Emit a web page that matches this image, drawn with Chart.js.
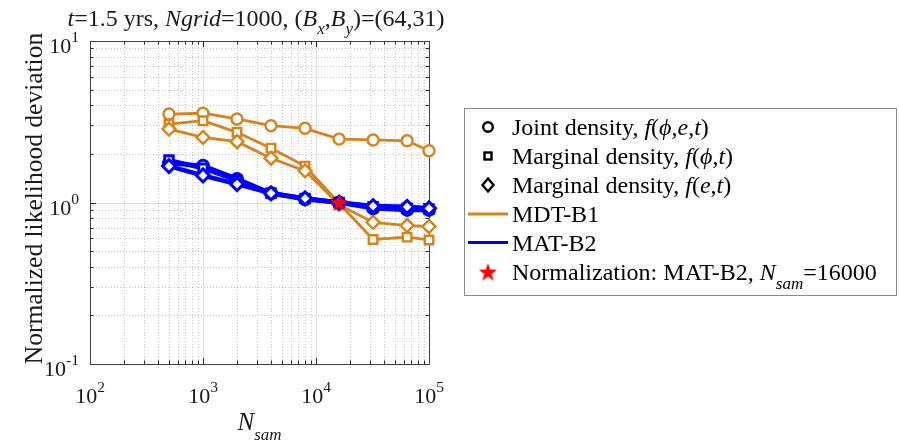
<!DOCTYPE html>
<html>
<head>
<meta charset="utf-8">
<script src="https://cdn.jsdelivr.net/npm/chart.js@4.4.1/dist/chart.umd.min.js"></script>
<style>
  html, body { margin: 0; padding: 0; background: #fff; }
  canvas { display: block; }
</style>
</head>
<body>
<canvas id="c" width="899" height="445"></canvas>
<script>
// Sample counts (x axis)
const nSam = [500, 1000, 2000, 4000, 8000, 16000, 32000, 64000, 100000];

// MDT-B1 normalized likelihood deviations
const mdtJoint = [3.53, 3.57, 3.29, 2.99, 2.88, 2.47, 2.44, 2.41, 2.09];
const mdtPhi   = [3.06, 3.21, 2.72, 2.17, 1.68, 0.99, 0.59, 0.61, 0.586];
const mdtE     = [2.85, 2.53, 2.38, 1.88, 1.57, 0.97, 0.754, 0.72, 0.71];

// MAT-B2 normalized likelihood deviations
const matJoint = [1.75, 1.69, 1.40, 1.14, 1.047, 1.0, 0.92, 0.90, 0.90];
const matPhi   = [1.83, 1.63, 1.37, 1.14, 1.06, 1.0, 0.94, 0.92, 0.91];
const matE     = [1.68, 1.47, 1.30, 1.14, 1.06, 1.0, 0.95, 0.94, 0.92];

// Normalization reference point (MAT-B2, Nsam = 16000)
const normN = [16000];
const normValue = [1.0];

// Decade tick labels (powers of ten)
const xTickExponents = [2, 3, 4, 5];
const yTickExponents = [-1, 0, 1];

const SERIF = '"Liberation Serif", "Times New Roman", serif';
const ORANGE = '#D9821C';
const BLUE = '#0000FF';
const INK = '#1a1a1a';

function font(size, italic) {
  return (italic ? 'italic ' : '') + size + 'px ' + SERIF;
}
function richWidth(ctx, segs, base) {
  let w = 0;
  for (const s of segs) {
    ctx.font = font(s.size || base, s.italic);
    w += ctx.measureText(s.text).width;
  }
  return w;
}
function drawRich(ctx, segs, x, y, align, base) {
  const w = richWidth(ctx, segs, base);
  let cx = align === 'center' ? x - w / 2 : align === 'right' ? x - w : x;
  ctx.textAlign = 'left';
  ctx.textBaseline = 'alphabetic';
  for (const s of segs) {
    ctx.font = font(s.size || base, s.italic);
    ctx.fillText(s.text, cx, y + (s.dy || 0));
    cx += ctx.measureText(s.text).width;
  }
}

// Filled five-pointed star used as a point style
function pentagram(r, color) {
  const size = Math.ceil(r * 2 + 4);
  const c = document.createElement('canvas');
  c.width = c.height = size;
  const g = c.getContext('2d');
  g.translate(size / 2, size / 2 + r * 0.1);
  g.beginPath();
  for (let i = 0; i < 10; i++) {
    const rr = i % 2 === 0 ? r : r * 0.4;
    const ang = -Math.PI / 2 + i * Math.PI / 5;
    const px = rr * Math.cos(ang), py = rr * Math.sin(ang);
    if (i === 0) g.moveTo(px, py); else g.lineTo(px, py);
  }
  g.closePath();
  g.fillStyle = color;
  g.fill();
  g.lineWidth = 1;
  g.strokeStyle = color;
  g.stroke();
  return c;
}
const starImg = pentagram(8.5, '#FF0000');

function series(label, values, style, color, lineW, radius, markerW, order) {
  return {
    label,
    data: nSam.map((n, i) => ({ x: n, y: values[i] })),
    showLine: true,
    borderColor: color,
    borderWidth: lineW,
    pointStyle: style,
    pointRadius: radius,
    pointBorderWidth: markerW,
    pointBorderColor: color,
    pointBackgroundColor: '#fff',
    order,
    clip: false
  };
}

// Grid, frame and inward ticks in the MATLAB style
const axesFrame = {
  id: 'axesFrame',
  beforeDatasetsDraw(chart) {
    const { ctx, chartArea: a, scales: { x, y } } = chart;
    ctx.save();
    const xPow = xTickExponents, yPow = yTickExponents;
    const xMinor = [], yMinor = [];
    for (let k = 0; k < xPow.length - 1; k++)
      for (let m = 2; m <= 9; m++) xMinor.push(m * Math.pow(10, xPow[k]));
    for (let k = 0; k < yPow.length - 1; k++)
      for (let m = 2; m <= 9; m++) yMinor.push(m * Math.pow(10, yPow[k]));
    const xMajor = xPow.map(e => Math.pow(10, e));
    const yMajor = yPow.map(e => Math.pow(10, e));

    ctx.lineWidth = 1;
    // minor grid (dotted)
    ctx.setLineDash([1, 2]);
    ctx.strokeStyle = 'rgba(38,38,38,0.25)';
    ctx.beginPath();
    for (const v of xMinor) {
      const px = Math.round(x.getPixelForValue(v)) + 0.5;
      ctx.moveTo(px, a.top); ctx.lineTo(px, a.bottom);
    }
    for (const v of yMinor) {
      const py = Math.round(y.getPixelForValue(v)) + 0.5;
      ctx.moveTo(a.left, py); ctx.lineTo(a.right, py);
    }
    ctx.stroke();
    // major grid (solid, light)
    ctx.setLineDash([]);
    ctx.strokeStyle = 'rgba(38,38,38,0.15)';
    ctx.beginPath();
    for (const v of xMajor) {
      const px = Math.round(x.getPixelForValue(v)) + 0.5;
      ctx.moveTo(px, a.top); ctx.lineTo(px, a.bottom);
    }
    for (const v of yMajor) {
      const py = Math.round(y.getPixelForValue(v)) + 0.5;
      ctx.moveTo(a.left, py); ctx.lineTo(a.right, py);
    }
    ctx.stroke();

    // ticks on all four sides, pointing inward
    ctx.strokeStyle = '#262626';
    ctx.beginPath();
    const tick = (vals, len) => {
      for (const v of vals.x) {
        const px = Math.round(x.getPixelForValue(v)) + 0.5;
        ctx.moveTo(px, a.bottom); ctx.lineTo(px, a.bottom - len);
        ctx.moveTo(px, a.top); ctx.lineTo(px, a.top + len);
      }
      for (const v of vals.y) {
        const py = Math.round(y.getPixelForValue(v)) + 0.5;
        ctx.moveTo(a.left, py); ctx.lineTo(a.left + len, py);
        ctx.moveTo(a.right, py); ctx.lineTo(a.right - len, py);
      }
    };
    tick({ x: xMajor, y: yMajor }, 6);
    tick({ x: xMinor, y: yMinor }, 3.5);
    ctx.stroke();

    // frame
    ctx.strokeStyle = '#404040';
    ctx.strokeRect(Math.round(a.left) + 0.5, Math.round(a.top) + 0.5,
                   Math.round(a.right - a.left), Math.round(a.bottom - a.top));
    ctx.restore();
  },
  afterDraw(chart) {
    const { ctx, chartArea: a, scales: { x, y } } = chart;
    ctx.save();
    ctx.fillStyle = INK;
    const TICK = 22, SUP = 15.5;

    // x tick labels 10^n, centred on the tick
    for (const e of xTickExponents) {
      const px = x.getPixelForValue(Math.pow(10, e));
      drawRich(ctx, [{ text: '10' }, { text: String(e), size: SUP, dy: -11 }],
               px, 403, 'center', TICK);
    }
    // y tick labels 10^n, right aligned
    for (const e of yTickExponents) {
      const py = y.getPixelForValue(Math.pow(10, e));
      drawRich(ctx, [{ text: '10' }, { text: String(e), size: SUP, dy: -11 }],
               a.left - 11, py + 12, 'right', TICK);
    }

    // x axis title
    drawRich(ctx, [{ text: 'N', italic: true }, { text: 'sam', italic: true, size: 17, dy: 10 }],
             (a.left + a.right) / 2, 430, 'center', 25);

    // y axis title
    ctx.save();
    ctx.translate(42, 198.5);
    ctx.rotate(-Math.PI / 2);
    drawRich(ctx, [{ text: 'Normalized likelihood deviation' }], 0, 0, 'center', 25.5);
    ctx.restore();

    // chart title
    drawRich(ctx, [
      { text: 't', italic: true }, { text: '=1.5 yrs, ' },
      { text: 'Ngrid', italic: true }, { text: '=1000, (' },
      { text: 'B', italic: true }, { text: 'x', italic: true, size: 17, dy: 8 },
      { text: ',' },
      { text: 'B', italic: true }, { text: 'y', italic: true, size: 17, dy: 8 },
      { text: ')=(64,31)' }
    ], 256, 26, 'center', 24);

    // legend box
    const L = { x: 464, y: 108, w: 433, h: 188 };
    ctx.fillStyle = '#fff';
    ctx.fillRect(L.x, L.y, L.w, L.h);
    ctx.strokeStyle = '#8a8a8a';
    ctx.lineWidth = 1;
    ctx.strokeRect(L.x + 0.5, L.y + 0.5, L.w - 1, L.h - 1);

    const mx = 488, tx = 512, LF = 24;
    const rows = [135, 164, 193, 222, 250.5, 280];
    ctx.strokeStyle = '#000';
    ctx.lineWidth = 2.4;
    // circle
    ctx.beginPath(); ctx.arc(mx, rows[0] - 8, 4.8, 0, Math.PI * 2); ctx.stroke();
    // square
    ctx.strokeRect(mx - 3.5, rows[1] - 11.5, 7, 7);
    // diamond
    ctx.beginPath();
    ctx.moveTo(mx, rows[2] - 14.5); ctx.lineTo(mx + 5.5, rows[2] - 8);
    ctx.lineTo(mx, rows[2] - 1.5); ctx.lineTo(mx - 5.5, rows[2] - 8); ctx.closePath(); ctx.stroke();
    // line samples
    ctx.lineWidth = 2.8;
    ctx.strokeStyle = ORANGE;
    ctx.beginPath(); ctx.moveTo(468, rows[3] - 8); ctx.lineTo(508, rows[3] - 8); ctx.stroke();
    ctx.lineWidth = 3;
    ctx.strokeStyle = BLUE;
    ctx.beginPath(); ctx.moveTo(468, rows[4] - 8); ctx.lineTo(508, rows[4] - 8); ctx.stroke();
    // star
    ctx.drawImage(starImg, mx - starImg.width / 2, rows[5] - 8 - starImg.height / 2);

    ctx.fillStyle = '#000';
    drawRich(ctx, [{ text: 'Joint density, ' }, { text: 'f', italic: true }, { text: '(' },
                   { text: 'ϕ', italic: true }, { text: ',' }, { text: 'e', italic: true },
                   { text: ',' }, { text: 't', italic: true }, { text: ')' }], tx, rows[0], 'left', LF);
    drawRich(ctx, [{ text: 'Marginal density, ' }, { text: 'f', italic: true }, { text: '(' },
                   { text: 'ϕ', italic: true }, { text: ',' }, { text: 't', italic: true },
                   { text: ')' }], tx, rows[1], 'left', LF);
    drawRich(ctx, [{ text: 'Marginal density, ' }, { text: 'f', italic: true }, { text: '(' },
                   { text: 'e', italic: true }, { text: ',' }, { text: 't', italic: true },
                   { text: ')' }], tx, rows[2], 'left', LF);
    drawRich(ctx, [{ text: 'MDT-B1' }], tx, rows[3], 'left', LF);
    drawRich(ctx, [{ text: 'MAT-B2' }], tx, rows[4], 'left', LF);
    drawRich(ctx, [{ text: 'Normalization: MAT-B2, ' }, { text: 'N', italic: true },
                   { text: 'sam', italic: true, size: 17, dy: 9 }, { text: '=16000' }],
             tx, rows[5], 'left', LF);
    ctx.restore();
  }
};

const datasets = [
  {
    label: 'Normalization: MAT-B2',
    data: normN.map((n, i) => ({ x: n, y: normValue[i] })),
    showLine: false,
    pointStyle: starImg,
    pointRadius: 8,
    order: 0,
    clip: false
  },
  series('MAT-B2 f(e,t)', matE, 'rectRot', BLUE, 4.5, 6.5, 3, 1),
  series('MAT-B2 f(phi,t)', matPhi, 'rect', BLUE, 4.5, 6, 3, 2),
  series('MAT-B2 f(phi,e,t)', matJoint, 'circle', BLUE, 4.5, 5.5, 3, 3),
  series('MDT-B1 f(e,t)', mdtE, 'rectRot', ORANGE, 2.8, 6.5, 2.4, 4),
  series('MDT-B1 f(phi,t)', mdtPhi, 'rect', ORANGE, 2.8, 6, 2.4, 5),
  series('MDT-B1 f(phi,e,t)', mdtJoint, 'circle', ORANGE, 2.8, 5.5, 2.4, 6)
];

new Chart(document.getElementById('c'), {
  type: 'scatter',
  data: { datasets },
  options: {
    responsive: false,
    animation: false,
    events: [],
    layout: { padding: { left: 90, top: 41, right: 470, bottom: 81 } },
    scales: {
      x: { type: 'logarithmic', min: 100, max: 100000, display: false },
      y: { type: 'logarithmic', min: 0.1, max: 10, display: false }
    },
    plugins: { legend: { display: false }, tooltip: { enabled: false } }
  },
  plugins: [axesFrame]
});
</script>
</body>
</html>
